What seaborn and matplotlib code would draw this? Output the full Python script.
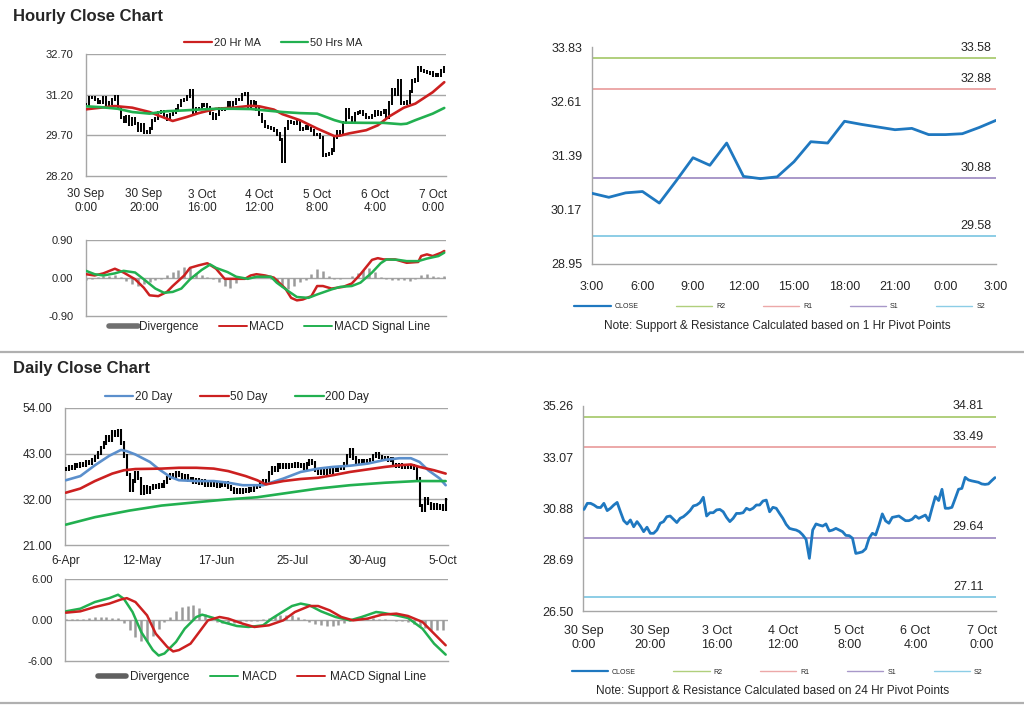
import numpy as np
import matplotlib
matplotlib.use("Agg")
import matplotlib.pyplot as plt
from matplotlib.lines import Line2D
import seaborn as sns

# ---------------- hourly data (one value per hourly bar) ----------------
hourly_close = [
    30.84, 31.10, 31.10, 31.03, 30.93, 30.92, 31.10, 30.79, 30.89, 31.03,
    31.14, 30.74, 30.36, 30.22, 30.39, 30.10, 30.32, 30.13, 29.89, 30.08,
    29.82, 29.82, 29.96, 30.25, 30.32, 30.53, 30.56, 30.42, 30.28, 30.46,
    30.53, 30.65, 30.79, 30.99, 31.03, 31.13, 31.36, 30.56, 30.70, 30.70,
    30.82, 30.84, 30.74, 30.50, 30.32, 30.46, 30.67, 30.67, 30.70, 30.89,
    30.82, 30.89, 31.03, 31.03, 31.20, 31.24, 30.74, 30.93, 30.89, 30.67,
    30.46, 30.20, 30.03, 29.99, 29.96, 29.89, 29.75, 29.56, 28.75, 29.96,
    30.22, 30.17, 30.13, 30.22, 29.92, 29.96, 30.03, 29.96, 29.89, 29.73,
    29.72, 29.61, 28.96, 28.99, 29.03, 29.16, 29.61, 29.82, 29.75, 30.17,
    30.65, 30.35, 30.25, 30.50, 30.53, 30.56, 30.46, 30.36, 30.36, 30.42,
    30.56, 30.46, 30.53, 30.60, 30.36, 30.89, 31.39, 31.22, 31.70, 30.89,
    30.89, 30.93, 31.31, 31.70, 31.74, 32.21, 32.10, 32.06, 32.03, 32.00,
    31.93, 31.91, 31.93, 32.07, 32.20,
]
hourly_ticks = [0, 20, 40, 60, 80, 100, 120]
hourly_tick_labels = ["30 Sep\n0:00", "30 Sep\n20:00", "3 Oct\n16:00", "4 Oct\n12:00",
                      "5 Oct\n8:00", "6 Oct\n4:00", "7 Oct\n0:00"]

ma20_hr_idx = [0, 10, 16, 22, 30, 35, 39, 45, 51, 57, 60, 65, 68, 74, 80, 86, 88, 91, 97, 101, 105, 110, 114, 120, 124]
ma20_hr = [30.66, 30.78, 30.72, 30.56, 30.23, 30.38, 30.52, 30.68, 30.72, 30.79, 30.77, 30.65, 30.48,
           30.26, 29.95, 29.67, 29.69, 29.77, 29.89, 30.07, 30.40, 30.72, 30.87, 31.29, 31.66]
ma50_hr_idx = [0, 5, 11, 16, 22, 28, 34, 39, 45, 51, 57, 62, 68, 74, 80, 83, 86, 89, 97, 103, 109, 111, 114, 120, 124]
ma50_hr = [30.77, 30.74, 30.68, 30.56, 30.50, 30.59, 30.62, 30.65, 30.68, 30.68, 30.67, 30.62, 30.56,
           30.52, 30.50, 30.38, 30.26, 30.17, 30.16, 30.16, 30.11, 30.13, 30.26, 30.50, 30.71]

macd_hr_idx = [0, 3, 6, 10, 13, 17, 20, 22, 25, 28, 30, 34, 36, 39, 42, 45, 48, 51, 55, 57, 59, 62, 65,
               69, 71, 73, 75, 78, 80, 82, 85, 89, 92, 95, 99, 101, 103, 107, 111, 115, 116, 118, 120, 123, 124]
macd_hr = [0.09, 0.06, 0.11, 0.22, 0.13, -0.03, -0.23, -0.41, -0.43, -0.33, -0.19, 0.06, 0.24, 0.30, 0.35,
           0.22, -0.02, -0.02, -0.02, 0.06, 0.09, 0.06, 0.01, -0.25, -0.47, -0.53, -0.51, -0.43, -0.19,
           -0.19, -0.25, -0.21, -0.13, 0.09, 0.43, 0.47, 0.44, 0.44, 0.36, 0.38, 0.52, 0.56, 0.52, 0.60, 0.64]
signal_hr_idx = [0, 3, 6, 10, 13, 17, 20, 24, 27, 30, 33, 36, 40, 43, 45, 49, 52, 56, 59, 64, 66, 70, 73,
                 77, 80, 85, 88, 92, 95, 99, 102, 104, 108, 111, 115, 118, 122, 124]
signal_hr = [0.17, 0.09, 0.06, 0.11, 0.17, 0.13, -0.03, -0.25, -0.35, -0.33, -0.25, -0.03, 0.19, 0.32,
             0.24, 0.14, 0.03, -0.02, 0.03, 0.03, -0.11, -0.31, -0.45, -0.47, -0.39, -0.27, -0.21, -0.19,
             -0.11, 0.13, 0.35, 0.44, 0.43, 0.40, 0.40, 0.46, 0.52, 0.60]
# divergence histogram, every second hourly bar
div_hr = [-0.05, -0.03, 0.02, 0.04, 0.05, 0.06, 0.02, -0.06, -0.14, -0.19, -0.15, -0.10, -0.05, -0.02,
          0.06, 0.14, 0.20, 0.26, 0.24, 0.12, 0.06, 0.03, -0.02, -0.10, -0.20, -0.24, -0.12, -0.03,
          0.00, 0.01, 0.00, 0.00, -0.02, -0.10, -0.22, -0.27, -0.20, -0.10, -0.04, 0.10, 0.22, 0.16,
          0.04, -0.02, -0.02, -0.01, 0.04, 0.12, 0.20, 0.24, 0.14, 0.03, -0.03, -0.04, -0.05, -0.04,
          -0.06, -0.02, 0.06, 0.10, 0.05, 0.03, 0.04]

# ---------------- 1 hr pivot chart ----------------
pivot_1h_close = [30.54, 30.45, 30.55, 30.58, 30.32, 30.82, 31.34, 31.17, 31.67, 30.92, 30.87, 30.91, 31.25,
                  31.70, 31.67, 32.16, 32.09, 32.03, 31.97, 32.00, 31.86, 31.86, 31.88, 32.02, 32.18]
pivot_1h_labels = ["3:00", "6:00", "9:00", "12:00", "15:00", "18:00", "21:00", "0:00", "3:00"]
level_names = ["R2", "R1", "S1", "S2"]
levels_1h = [33.58, 32.88, 30.88, 29.58]
levels_24h = [34.81, 33.49, 29.64, 27.11]

# ---------------- daily data ----------------
daily_close = [
    39.3, 39.8, 39.6, 40.3, 40.0, 40.6, 40.2, 41.0, 40.7, 41.5,
    42.2, 43.2, 44.5, 45.6, 47.0, 46.2, 48.3, 47.4, 48.6, 45.5,
    42.5, 38.0, 34.2, 36.5, 38.4, 37.0, 33.5, 35.0, 33.8, 34.8,
    35.2, 34.9, 35.6, 35.3, 36.2, 37.2, 38.0, 37.6, 38.4, 37.9,
    37.2, 37.6, 36.6, 36.9, 36.2, 36.7, 36.0, 36.4, 35.5, 35.8,
    35.4, 35.9, 35.3, 35.7, 35.5, 35.9, 35.0, 34.5, 33.8, 34.3,
    33.7, 34.4, 34.0, 34.6, 34.3, 35.0, 35.3, 35.8, 36.4, 36.0,
    38.4, 39.5, 39.0, 40.3, 39.8, 40.4, 39.7, 40.2, 39.9, 40.6,
    40.0, 40.3, 39.6, 40.5, 41.2, 40.8, 39.0, 38.3, 38.8, 38.4,
    39.0, 38.6, 39.3, 39.0, 39.6, 39.4, 40.5, 42.5, 44.0, 42.0,
    40.8, 41.2, 40.6, 41.3, 41.0, 41.6, 42.5, 43.0, 42.2, 41.8,
    42.1, 41.5, 41.8, 40.4, 40.0, 40.3, 39.8, 40.1, 39.7, 40.0,
    39.6, 37.0, 30.5, 29.5, 32.0, 31.0, 30.0, 30.6, 29.8, 30.4,
    29.6, 31.8,
]
daily_ticks = [0, 26, 52, 78, 104, 130]
daily_tick_labels = ["6-Apr", "12-May", "17-Jun", "25-Jul", "30-Aug", "5-Oct"]

ma20_d_idx = [0, 5, 10, 15, 19, 21, 24, 29, 32, 36, 39, 45, 51, 56, 61, 66, 68, 75, 81, 87, 92, 98, 104, 110, 115, 119, 122, 125, 129, 131]
ma20_d = [36.6, 37.6, 40.2, 42.5, 43.9, 43.6, 42.8, 41.0, 39.3, 37.4, 36.6, 36.4, 36.4, 36.0, 35.4,
          35.4, 35.4, 37.0, 38.6, 39.4, 39.8, 40.1, 40.6, 41.5, 41.9, 41.9, 41.0, 39.0, 37.0, 35.4]
ma50_d_idx = [0, 5, 10, 16, 20, 24, 33, 39, 45, 51, 56, 62, 66, 69, 75, 81, 87, 92, 98, 104, 110, 115, 119, 122, 127, 131]
ma50_d = [33.6, 34.6, 36.4, 38.2, 39.0, 39.3, 39.4, 39.6, 39.6, 39.4, 38.8, 37.6, 36.6, 35.6, 36.4,
          36.9, 37.2, 37.8, 38.6, 39.2, 39.8, 40.2, 40.4, 39.8, 39.0, 38.2]
ma200_d_idx = [0, 10, 22, 33, 45, 56, 66, 75, 87, 98, 110, 121, 131]
ma200_d = [25.9, 27.7, 29.3, 30.5, 31.3, 32.0, 32.5, 33.4, 34.6, 35.4, 36.0, 36.4, 36.4]

macd_d_idx = [0, 5, 10, 15, 18, 20, 23, 26, 30, 32, 34, 38, 41, 45, 47, 51, 54, 59, 63, 68, 71, 75, 78,
              81, 84, 88, 93, 98, 102, 107, 109, 114, 118, 123, 127, 131]
macd_d = [1.27, 1.66, 2.63, 3.2, 3.7, 3.1, 1.17, -1.76, -4.4, -5.2, -4.9, -3.2, -1.27, 0.44, 0.78, 0.29,
          -0.29, -0.88, -1.02, -0.78, 0.2, 1.27, 2.05, 2.4, 2.15, 1.27, 0.44, -0.05, 0.44, 1.17, 1.07,
          0.68, 0.29, -1.27, -3.46, -5.07]
signal_d_idx = [0, 5, 10, 15, 19, 21, 24, 28, 31, 35, 37, 39, 43, 46, 49, 53, 56, 61, 65, 70, 75, 79, 84,
                87, 91, 95, 99, 104, 109, 114, 118, 123, 127, 131]
signal_d = [1.07, 1.27, 1.9, 2.4, 3.0, 3.2, 2.63, 0.68, -2.0, -3.95, -4.6, -4.4, -3.46, -1.76, -0.05, 0.44,
            0.2, -0.54, -1.02, -0.78, -0.05, 1.17, 2.05, 2.05, 1.41, 0.44, -0.05, 0.2, 0.78, 0.93, 0.59,
            -0.29, -2.0, -3.7]
# divergence histogram, every second daily bar
div_d = [0.1, 0.1, 0.15, 0.2, 0.3, 0.4, 0.4, 0.4, 0.35, 0.3, -0.5, -1.5, -2.5, -3.1, -3.0, -2.3, -1.3,
         -0.3, 0.5, 1.3, 1.9, 2.1, 2.2, 1.8, 0.9, 0.2, -0.3, -0.5, -0.5, -0.4, -0.3, -0.2, -0.1, -0.1,
         0.1, 0.3, 0.6, 0.8, 0.8, 0.7, 0.5, 0.2, -0.3, -0.6, -0.8, -0.9, -0.9, -0.8, -0.5, -0.1, 0.2,
         0.3, 0.3, 0.3, 0.2, 0.1, 0.0, -0.1, -0.2, -0.3, -0.6, -0.9, -1.2, -1.4, -1.5, -1.4]

# ---------------- style ----------------
sns.set_theme(style="white")
plt.rcParams["font.family"] = ["Liberation Sans", "DejaVu Sans"]
TXT = "#262626"
GRID = "#a6a6a6"
RED = "#cc2020"
GREEN = "#22b050"
BLUE20 = "#5b8fcc"
CLOSE_BLUE = "#1f78c0"
DIV_GRAY = "#9a9a9a"
level_colors = ["#b0cf7c", "#eca8a8", "#a898c9", "#8ccde6"]

fig = plt.figure(figsize=(10.24, 7.06), dpi=100)


def px_axes(x0, y0, x1, y1):
    return fig.add_axes([x0 / 1024, 1 - y1 / 706, (x1 - x0) / 1024, (y1 - y0) / 706])


def base_style(ax, ysize):
    for s in ["top", "right"]:
        ax.spines[s].set_visible(False)
    for s in ["left", "bottom"]:
        ax.spines[s].set_color(GRID)
        ax.spines[s].set_linewidth(1.0)
    ax.tick_params(axis="y", labelsize=ysize, colors=TXT, length=0, pad=9)
    ax.yaxis.set_major_formatter(matplotlib.ticker.FormatStrFormatter("%.2f"))
    ax.set_xlabel("")
    ax.set_ylabel("")


def draw_candles(ax, close, lw, wick):
    # open taken as the previous bar's close; wick is a drawing margin only
    close = np.asarray(close)
    opens = np.r_[close[0], close[:-1]]
    idx = np.arange(len(close))
    ax.vlines(idx, np.minimum(opens, close) - wick, np.maximum(opens, close) + wick,
              color="black", lw=lw, zorder=3)


def macd_panel(ax, step, div, m_idx, m, s_idx, s, m_col, s_col, lim, xlim):
    idx = np.arange(len(div)) * step
    ax.vlines(idx, 0, div, color=DIV_GRAY, lw=1.8, zorder=2)
    sns.lineplot(x=m_idx, y=m, ax=ax, color=m_col, lw=1.8, zorder=4)
    sns.lineplot(x=s_idx, y=s, ax=ax, color=s_col, lw=1.8, zorder=4)
    for v in [lim, 0]:
        ax.axhline(v, color=GRID, lw=1.0, zorder=1)
    ax.set_ylim(-lim, lim)
    ax.set_yticks([-lim, 0, lim])
    ax.set_xlim(*xlim)
    ax.set_xticks([])
    base_style(ax, 8)


def pivot_panel(ax, x, close, levels, ylim, yticks, ysize, lab_dx):
    for lv, col in zip(levels, level_colors):
        ax.axhline(lv, color=col, lw=1.4, zorder=2)
        ax.annotate(f"{lv:.2f}", xy=(1, lv), xycoords=ax.get_yaxis_transform(),
                    xytext=(lab_dx, 3), textcoords="offset points", ha="right", va="bottom",
                    fontsize=9, color=TXT)
    sns.lineplot(x=x, y=close, ax=ax, color=CLOSE_BLUE, lw=2.0, zorder=3)
    ax.set_ylim(*ylim)
    ax.set_yticks(yticks)
    base_style(ax, ysize)
    ax.tick_params(axis="y", length=3, width=0.8, color=GRID, direction="out", pad=4)
    ax.tick_params(axis="x", labelsize=ysize, colors=TXT, length=4, width=0.8,
                   color=GRID, direction="out", pad=8)
    for t in ax.get_xticklabels() + ax.get_yticklabels():
        t.set_color(TXT)
    handles = [Line2D([], [], color=CLOSE_BLUE, lw=1.6)] + \
              [Line2D([], [], color=c, lw=1.0) for c in level_colors]
    return handles


# ================= Hourly close chart =================
ax1 = px_axes(86, 54, 446, 176)
draw_candles(ax1, hourly_close, 1.4, 0.06)
sns.lineplot(x=ma20_hr_idx, y=ma20_hr, ax=ax1, color=RED, lw=1.9, zorder=4)
sns.lineplot(x=ma50_hr_idx, y=ma50_hr, ax=ax1, color=GREEN, lw=1.9, zorder=4)
for v in [29.70, 31.20, 32.70]:
    ax1.axhline(v, color=GRID, lw=1.0, zorder=1)
ax1.set_ylim(28.20, 32.70)
ax1.set_yticks([28.20, 29.70, 31.20, 32.70])
ax1.set_xlim(0, 124.6)
ax1.set_xticks(hourly_ticks)
ax1.set_xticklabels(hourly_tick_labels)
base_style(ax1, 8)
ax1.tick_params(axis="x", labelsize=8.5, colors=TXT, length=4, width=0.8, color=GRID,
                direction="out", pad=5)
ax1.legend([Line2D([], [], color=RED, lw=1.6), Line2D([], [], color=GREEN, lw=1.6)],
           ["20 Hr MA", "50 Hrs MA"], loc="center", bbox_to_anchor=(0.52, 1.09), ncol=2,
           frameon=False, fontsize=8, handlelength=2.5, handletextpad=0.15, columnspacing=1.8)

ax2 = px_axes(86, 240, 446, 316)
macd_panel(ax2, 2, div_hr, macd_hr_idx, macd_hr, signal_hr_idx, signal_hr, RED, GREEN, 0.90, (0, 124.6))
ax2.legend([Line2D([], [], color="#707070", lw=4), Line2D([], [], color=RED, lw=1.4),
            Line2D([], [], color=GREEN, lw=1.4)], ["Divergence", "MACD", "MACD Signal Line"],
           loc="center", bbox_to_anchor=(0.51, -0.145), ncol=3, frameon=False, fontsize=8.5,
           handlelength=2.4, handletextpad=0.15, columnspacing=1.7)

# ================= 1 hr pivot chart =================
ax3 = px_axes(592, 47, 996, 264)
h3 = pivot_panel(ax3, np.arange(len(pivot_1h_close)), pivot_1h_close, levels_1h, (28.95, 33.83),
                 [28.95, 30.17, 31.39, 32.61, 33.83], 9, -3)
ax3.set_xlim(0, 24)
ax3.set_xticks(np.arange(0, 25, 3))
ax3.set_xticklabels(pivot_1h_labels)
ax3.legend(h3, ["CLOSE"] + level_names, loc="center", bbox_to_anchor=(0.465, -0.198), ncol=5,
           frameon=False, fontsize=5, handlelength=5.2, handletextpad=0.6, columnspacing=5.4)
ax3.text(0.458, -0.286, "Note: Support & Resistance Calculated based on 1 Hr Pivot Points",
         transform=ax3.transAxes, ha="center", va="center", fontsize=8.5, color=TXT)

# ================= Daily close chart =================
ax4 = px_axes(65, 408, 448, 545)
draw_candles(ax4, daily_close, 1.5, 0.45)
sns.lineplot(x=ma20_d_idx, y=ma20_d, ax=ax4, color=BLUE20, lw=1.9, zorder=4)
sns.lineplot(x=ma50_d_idx, y=ma50_d, ax=ax4, color=RED, lw=1.9, zorder=4)
sns.lineplot(x=ma200_d_idx, y=ma200_d, ax=ax4, color=GREEN, lw=1.9, zorder=4)
for v in [32.0, 43.0, 54.0]:
    ax4.axhline(v, color=GRID, lw=1.0, zorder=1)
ax4.set_ylim(21.0, 54.0)
ax4.set_yticks([21.0, 32.0, 43.0, 54.0])
ax4.set_xlim(-0.3, 131.8)
ax4.set_xticks(daily_ticks)
ax4.set_xticklabels(daily_tick_labels)
base_style(ax4, 8.5)
ax4.tick_params(axis="x", labelsize=8.5, colors=TXT, length=4, width=0.8, color=GRID,
                direction="out", pad=3)
ax4.legend([Line2D([], [], color=BLUE20, lw=1.6), Line2D([], [], color=RED, lw=1.6),
            Line2D([], [], color=GREEN, lw=1.6)], ["20 Day", "50 Day", "200 Day"],
           loc="center", bbox_to_anchor=(0.449, 1.08), ncol=3, frameon=False, fontsize=8.5,
           handlelength=2.4, handletextpad=0.1, columnspacing=2.4)

ax5 = px_axes(65, 579, 448, 661)
macd_panel(ax5, 2, div_d, macd_d_idx, macd_d, signal_d_idx, signal_d, GREEN, RED, 6.0, (-0.3, 131.8))
ax5.legend([Line2D([], [], color="#606060", lw=4), Line2D([], [], color=GREEN, lw=1.4),
            Line2D([], [], color=RED, lw=1.4)], ["Divergence", "MACD", "MACD Signal Line"],
           loc="center", bbox_to_anchor=(0.514, -0.195), ncol=3, frameon=False, fontsize=8.5,
           handlelength=2.4, handletextpad=0.35, columnspacing=1.7)

# ================= 24 hr pivot chart =================
ax6 = px_axes(583, 406, 996, 611)
h6 = pivot_panel(ax6, np.arange(len(hourly_close)), hourly_close, levels_24h, (26.50, 35.26),
                 [26.50, 28.69, 30.88, 33.07, 35.26], 9, -9)
ax6.set_xlim(-0.3, 124.3)
ax6.set_xticks(hourly_ticks)
ax6.set_xticklabels(hourly_tick_labels)
ax6.tick_params(axis="x", pad=6)
ax6.legend(h6, ["CLOSE"] + level_names, loc="center", bbox_to_anchor=(0.47, -0.298), ncol=5,
           frameon=False, fontsize=5, handlelength=5.2, handletextpad=0.6, columnspacing=5.4)
ax6.text(0.458, -0.39, "Note: Support & Resistance Calculated based on 24 Hr Pivot Points",
         transform=ax6.transAxes, ha="center", va="center", fontsize=8.5, color=TXT)

# ---------------- titles and separators ----------------
fig.text(13 / 1024, 1 - 16 / 706, "Hourly Close Chart", fontsize=12, fontweight="bold",
         color=TXT, va="center", ha="left")
fig.text(13 / 1024, 1 - 369 / 706, "Daily Close Chart", fontsize=12, fontweight="bold",
         color=TXT, va="center", ha="left")
for y in [352, 703]:
    fig.add_artist(Line2D([0, 1], [1 - y / 706, 1 - y / 706], transform=fig.transFigure,
                          color="#b0b0b0", lw=1.6))

fig.savefig("out.png", dpi=100)
